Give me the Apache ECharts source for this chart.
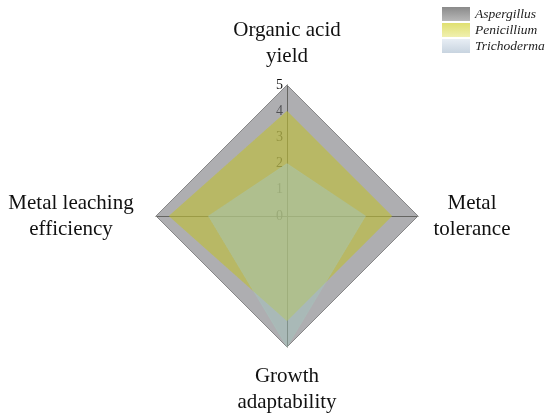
<!DOCTYPE html>
<html><head><meta charset="utf-8">
<script src="https://cdn.jsdelivr.net/npm/echarts@6/dist/echarts.min.js"></script>
<style>html,body{margin:0;padding:0;background:#fff}#c{width:550px;height:420px}</style>
</head><body><div id="c"></div>
<script>
const indicatorNames = [['Organic acid','yield'],['Metal leaching','efficiency'],['Growth','adaptability'],['Metal','tolerance']];
const seriesNames = ['Aspergillus','Penicillium','Trichoderma'];
const aspergillus = [5, 5, 5, 5];
const penicillium = [4, 4.5, 4, 4];
const trichoderma = [2, 3, 5, 3];
const maxValue = 5;

const serif = '"Liberation Serif","Times New Roman",serif';
const nameWidths = [130, 138, 120, 76];
const chart = echarts.init(document.getElementById('c'));
const fills = ['rgba(120,120,125,0.6)', 'rgba(192,192,50,0.6)', 'rgba(165,200,190,0.45)'];
const swatches = [
  new echarts.graphic.LinearGradient(0,0,0,1,[{offset:0,color:'#8a8a8a'},{offset:1,color:'#b8b8b8'}]),
  new echarts.graphic.LinearGradient(0,0,0,1,[{offset:0,color:'#e0e070'},{offset:1,color:'#f0f0b0'}]),
  new echarts.graphic.LinearGradient(0,0,0,1,[{offset:0,color:'#e8eef5'},{offset:1,color:'#c8d4e0'}])
];
const values = [aspergillus, penicillium, trichoderma];

const rich = {};
nameWidths.forEach((w, i) => {
  rich['a' + i] = { fontFamily: serif, fontSize: 21, color: '#111', align: 'center', lineHeight: 26, width: w };
});

chart.setOption({
  animation: false,
  legend: {
    orient: 'vertical', left: 442, top: 7, padding: 0, itemWidth: 28, itemHeight: 14, itemGap: 2,
    textStyle: { fontFamily: serif, fontStyle: 'italic', fontSize: 13.5, color: '#222' },
    data: seriesNames.map((n, i) => ({ name: n, icon: 'rect', itemStyle: { color: swatches[i], borderWidth: 0 } }))
  },
  radar: {
    center: [287, 216], radius: 131, startAngle: 90, shape: 'polygon', nameGap: 16,
    splitNumber: 5,
    indicator: indicatorNames.map((n, i) => ({
      name: n.join('\n'), min: 0, max: maxValue,
      axisLabel: i === 0 ? { show: true } : { show: false }
    })),
    axisName: {
      fontFamily: serif, fontSize: 21, color: '#111',
      formatter: function (v) {
        const idx = indicatorNames.findIndex(n => n.join('\n') === v);
        return v.split('\n').map(s => '{a' + idx + '|' + s + '}').join('\n');
      },
      rich: rich
    },
    axisLine: { lineStyle: { color: '#4a4a3a', width: 1 } },
    axisTick: { show: false },
    axisLabel: { show: false, fontFamily: serif, fontSize: 14, color: '#111', margin: 4 },
    splitLine: { show: false },
    splitArea: { show: false }
  },
  series: [{
    type: 'radar', symbol: 'none',
    data: seriesNames.map((n, i) => ({
      name: n, value: values[i],
      lineStyle: { width: i === 0 ? 1 : 0.5, color: i === 0 ? '#8f8f8f' : fills[i] },
      areaStyle: { color: fills[i], opacity: 1 },
      itemStyle: { color: fills[i] }
    }))
  }]
});
</script></body></html>
